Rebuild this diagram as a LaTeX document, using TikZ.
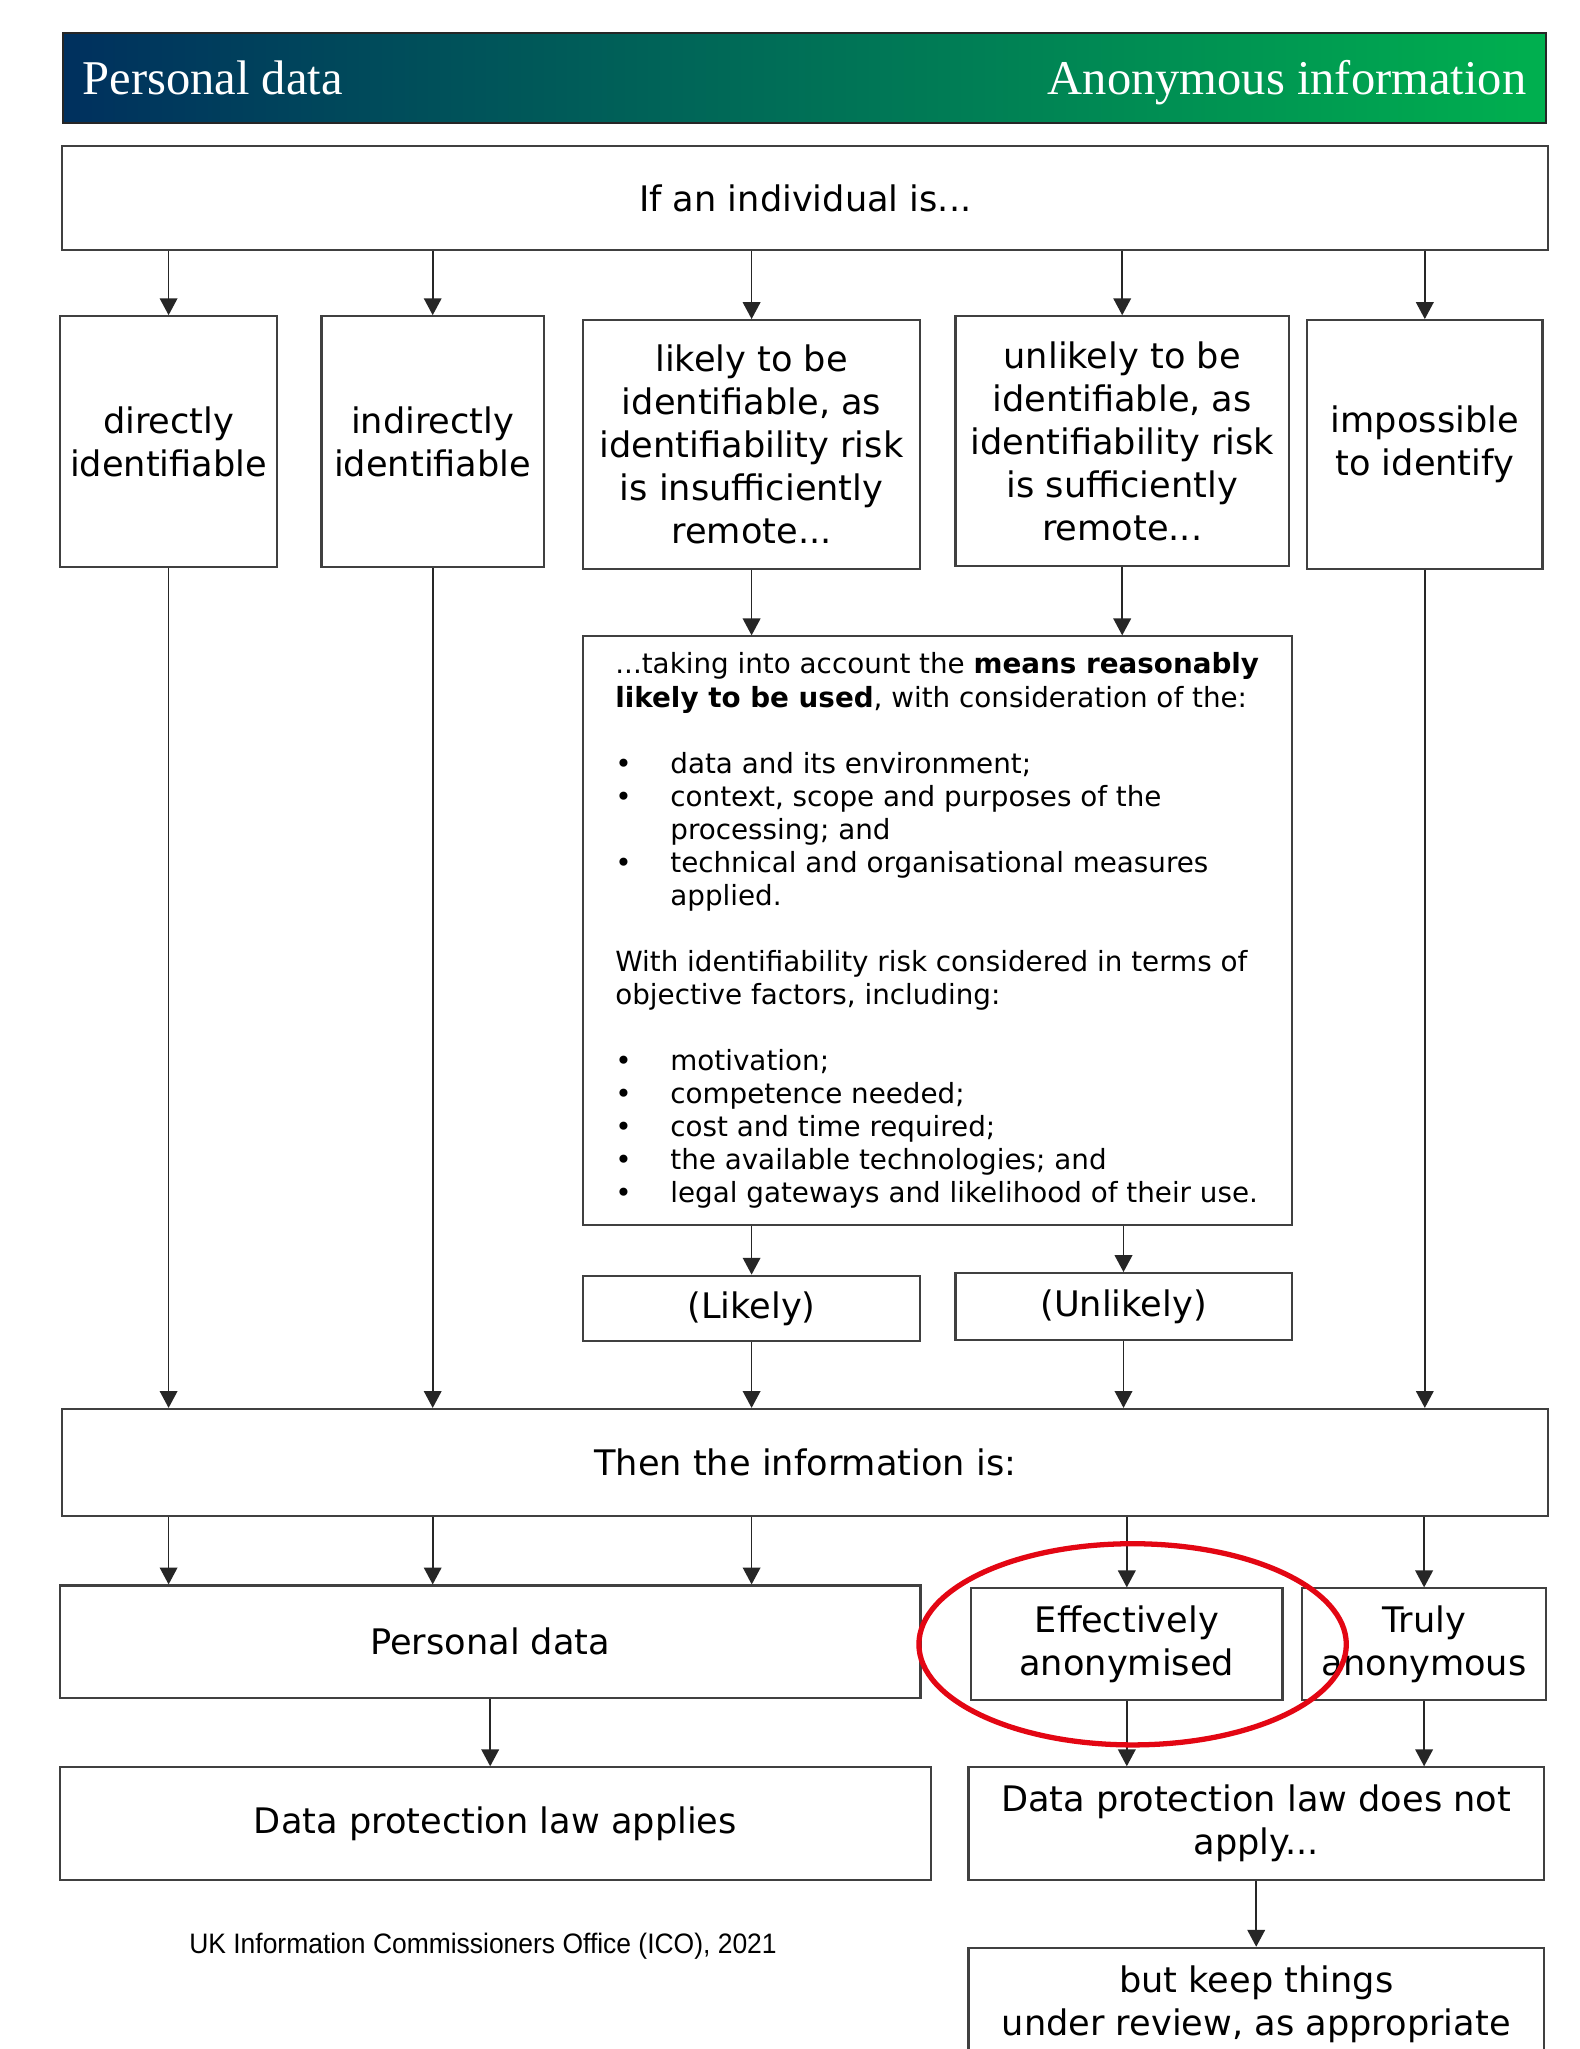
\documentclass[tikz,border=0pt]{standalone}
\usepackage{fontspec}
\setmainfont{DejaVu Sans}
\newfontfamily\headfont{Liberation Serif}
\newfontfamily\notefont{Liberation Sans}
\usetikzlibrary{arrows.meta}
\definecolor{ico-navy}{HTML}{00305E}
\definecolor{ico-teal}{HTML}{006E68}
\definecolor{ico-green}{HTML}{00B04F}
\definecolor{ico-red}{HTML}{E30613}
\definecolor{ico-line}{HTML}{404040}

\begin{document}
\begin{tikzpicture}[x=0.01cm, y=-0.01cm, >={Triangle[length=4.8pt,width=5pt]},
    box/.style={draw=ico-line, line width=0.6pt, align=center, inner sep=0pt, font=\fontsize{10}{12.2}\selectfont},
    head/.style={inner sep=0pt, text=white, font=\headfont\fontsize{13.8}{16}\selectfont},
    link/.style={->, black!85, line width=0.5pt}]
    \useasboundingbox (0,0) rectangle (1579,2049);
    \clip (0,0) rectangle (1579,2049);
    \fill[white] (0,0) rectangle (1579,2049);
    \shade[left color=ico-navy, middle color=ico-teal, right color=ico-green, draw=black!85, line width=0.5pt] (62.7,32.7) rectangle (1546.3,122.9);
    \node[head, anchor=base west] (headL) at (82,95) {Personal data};
    \node[head, anchor=base east] (headR) at (1527,95) {Anonymous information};

    \node[box, minimum width=14.85cm, minimum height=1.033cm] (ind) at (805.2,198) {If an individual is...};
    \node[box, minimum width=2.17cm, minimum height=2.51cm] (b1) at (168.6,441.8) {directly\\identifiable};
    \node[box, minimum width=2.223cm, minimum height=2.51cm] (b2) at (432.7,441.8) {indirectly\\identifiable};
    \node[box, minimum width=3.372cm, minimum height=2.484cm] (b3) at (751.6,444.4) {likely to be\\identifiable, as\\identifiability risk\\is insufficiently\\remote...};
    \node[box, minimum width=3.333cm, minimum height=2.497cm] (b4) at (1122.2,441.2) {unlikely to be\\identifiable, as\\identifiability risk\\is sufficiently\\remote...};
    \node[box, minimum width=2.353cm, minimum height=2.484cm] (b5) at (1424.8,444.4) {impossible\\to identify};

    \node[box, align=left, font=\fontsize{7.9}{9.4}\selectfont, minimum width=7.084cm, minimum height=5.882cm] (means) at (937.2,930.7)
      {...taking into account the \textbf{means reasonably}\\
       \textbf{likely to be used}, with consideration of the:\\[0.33cm]
       \makebox[0.55cm][l]{\textbullet}data and its environment;\\
       \makebox[0.55cm][l]{\textbullet}context, scope and purposes of the\\
       \hspace*{0.55cm}processing; and\\
       \makebox[0.55cm][l]{\textbullet}technical and organisational measures\\
       \hspace*{0.55cm}applied.\\[0.33cm]
       With identifiability risk considered in terms of\\
       objective factors, including:\\[0.33cm]
       \makebox[0.55cm][l]{\textbullet}motivation;\\
       \makebox[0.55cm][l]{\textbullet}competence needed;\\
       \makebox[0.55cm][l]{\textbullet}cost and time required;\\
       \makebox[0.55cm][l]{\textbullet}the available technologies; and\\
       \makebox[0.55cm][l]{\textbullet}legal gateways and likelihood of their use.};

    \node[box, minimum width=3.372cm, minimum height=0.654cm] (likely) at (751.6,1308.4) {(Likely)};
    \node[box, minimum width=3.359cm, minimum height=0.667cm] (unlikely) at (1123.5,1306.5) {(Unlikely)};
    \node[box, minimum width=14.85cm, minimum height=1.072cm] (then) at (805.2,1462.6) {Then the information is:};
    \node[box, minimum width=8.601cm, minimum height=1.124cm] (pd) at (490.2,1641.7) {Personal data};
    \node[box, minimum width=3.111cm, minimum height=1.111cm] (eff) at (1126.8,1644) {Effectively\\anonymised};
    \node[box, minimum width=2.444cm, minimum height=1.111cm] (truly) at (1424.1,1644) {Truly\\anonymous};
    \node[box, minimum width=8.706cm, minimum height=1.123cm] (applies) at (495.4,1823.5) {Data protection law applies};
    \node[box, minimum width=5.751cm, minimum height=1.123cm] (notapply) at (1256.2,1823.5) {Data protection law does not\\apply...};
    \node[box, minimum width=5.751cm, minimum height=1.123cm] (review) at (1256.2,2004) {but keep things\\under review, as appropriate};
    \node[font=\notefont\fontsize{8}{9.6}\selectfont, inner sep=0pt, xscale=0.94, transform shape] (src) at (483,1946) {UK Information Commissioners Office (ICO), 2021};

    \draw[link] (ind.south -| b1.north) -- (b1.north); \draw[link] (ind.south -| b2.north) -- (b2.north); \draw[link] (ind.south -| b3.north) -- (b3.north);
    \draw[link] (ind.south -| b4.north) -- (b4.north); \draw[link] (ind.south -| b5.north) -- (b5.north);
    \draw[link] (b3.south) -- (means.north -| b3.south); \draw[link] (b4.south) -- (means.north -| b4.south);
    \draw[link] (means.south -| likely.north) -- (likely.north); \draw[link] (means.south -| unlikely.north) -- (unlikely.north);
    \draw[link] (b1.south) -- (then.north -| b1.south); \draw[link] (b2.south) -- (then.north -| b2.south); \draw[link] (b5.south) -- (then.north -| b5.south);
    \draw[link] (likely.south) -- (then.north -| likely.south); \draw[link] (unlikely.south) -- (then.north -| unlikely.south);
    \draw[link] (then.south -| b1.south) -- (pd.north -| b1.south); \draw[link] (then.south -| b2.south) -- (pd.north -| b2.south); \draw[link] (then.south -| b3.south) -- (pd.north -| b3.south);
    \draw[link] (then.south -| eff.north) -- (eff.north); \draw[link] (then.south -| truly.north) -- (truly.north);
    \draw[link] (pd.south) -- (applies.north -| pd.south);
    \draw[link] (eff.south) -- (notapply.north -| eff.south); \draw[link] (truly.south) -- (notapply.north -| truly.south);
    \draw[link] (notapply.south) -- (review.north);

    \draw[ico-red, line width=1.5pt] (1132.6,1644.3) ellipse [x radius=213.7, y radius=100.6];
\end{tikzpicture}
\end{document}
